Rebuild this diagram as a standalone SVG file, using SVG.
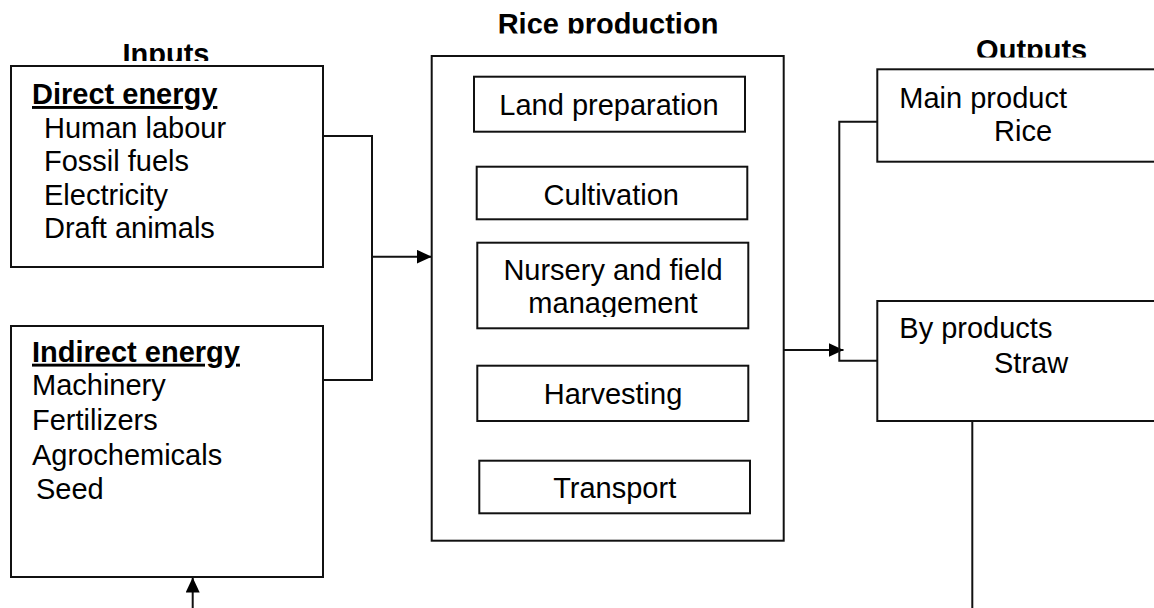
<svg xmlns="http://www.w3.org/2000/svg" width="1154" height="608" viewBox="0 0 1154 608">
<style>
text{font-family:"Liberation Sans",Arial,sans-serif;font-size:29px;fill:#000}
.b{font-weight:bold}
.u{text-decoration:underline}
.m{text-anchor:middle}
.box{fill:#fff;stroke:#111;stroke-width:2}
.ln{fill:none;stroke:#111;stroke-width:2}
</style>
<defs>
<marker id="ah" markerUnits="userSpaceOnUse" markerWidth="15" markerHeight="14" refX="15" refY="7" orient="auto">
<path d="M0,0 L15,7 L0,14 Z" fill="#000"/>
</marker>
<clipPath id="cIn"><rect x="80" y="20" width="180" height="41"/></clipPath>
<clipPath id="cRice"><rect x="470" y="0" width="280" height="33.5"/></clipPath>
<clipPath id="cOut"><rect x="950" y="20" width="170" height="37.5"/></clipPath>
<clipPath id="cNur"><rect x="478" y="243" width="270" height="74"/></clipPath>
</defs>

<g id="titles">
<text class="b m" x="166" y="63.5" clip-path="url(#cIn)">Inputs</text>
<text class="b m" x="608" y="34" clip-path="url(#cRice)">Rice production</text>
<text class="b m" x="1031.7" y="60" clip-path="url(#cOut)">Outputs</text>
</g>

<g id="connectors">
<polyline class="ln" points="323,136 372,136 372,380 323,380"/>
<line class="ln" x1="372" y1="256.7" x2="431.7" y2="256.7" marker-end="url(#ah)"/>
<line class="ln" x1="784" y1="350" x2="843.5" y2="350" marker-end="url(#ah)"/>
<polyline class="ln" points="877,121.7 839.3,121.7 839.3,360.7 877,360.7"/>
<line class="ln" x1="972.3" y1="421" x2="972.3" y2="608"/>
<line class="ln" x1="192.7" y1="608" x2="192.7" y2="577.5" marker-end="url(#ah)"/>
</g>

<g id="direct-energy">
<rect class="box" x="11" y="66" width="312" height="201"/>
<text class="b u" x="32" y="104">Direct energy</text>
<text x="44" y="138">Human labour</text>
<text x="44" y="171">Fossil fuels</text>
<text x="44" y="204.5">Electricity</text>
<text x="44" y="238">Draft animals</text>
</g>

<g id="indirect-energy">
<rect class="box" x="11" y="326" width="312" height="251"/>
<text class="b u" x="32" y="361.7">Indirect energy</text>
<text x="32" y="395">Machinery</text>
<text x="32" y="430">Fertilizers</text>
<text x="32" y="465">Agrochemicals</text>
<text x="36" y="498.5">Seed</text>
</g>

<g id="rice-production">
<rect class="box" x="431.7" y="56" width="352" height="484.7"/>
</g>

<g id="land-preparation">
<rect class="box" x="474" y="76.7" width="271" height="55"/>
<text class="m" x="609" y="115">Land preparation</text>
</g>

<g id="cultivation">
<rect class="box" x="476.7" y="166.7" width="270.6" height="52.6"/>
<text class="m" x="611.3" y="205">Cultivation</text>
</g>

<g id="nursery">
<rect class="box" x="477.3" y="242.7" width="271" height="85.6"/>
<g clip-path="url(#cNur)">
<text class="m" x="613" y="280">Nursery and field</text>
<text class="m" x="613" y="313.3">management</text>
</g>
</g>

<g id="harvesting">
<rect class="box" x="477.3" y="365.7" width="271" height="55.3"/>
<text class="m" x="613" y="404">Harvesting</text>
</g>

<g id="transport">
<rect class="box" x="479.3" y="460.7" width="270.7" height="52.6"/>
<text class="m" x="614.7" y="497.7">Transport</text>
</g>

<g id="main-product">
<rect class="box" x="877.3" y="69.3" width="290" height="92.4"/>
<text x="899.3" y="108.3">Main product</text>
<text x="994" y="140.7">Rice</text>
</g>

<g id="by-products">
<rect class="box" x="877.3" y="301" width="290" height="120"/>
<text x="899.3" y="338.3">By products</text>
<text x="994" y="373.3">Straw</text>
</g>
</svg>
